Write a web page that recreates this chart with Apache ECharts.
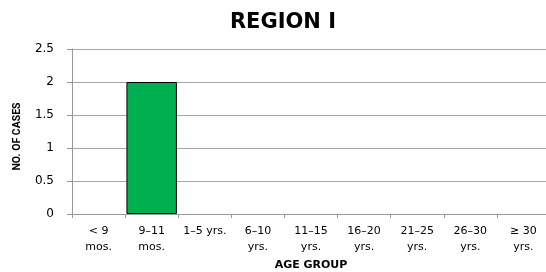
<!DOCTYPE html>
<html>
<head>
<meta charset="utf-8">
<script src="https://cdn.jsdelivr.net/npm/echarts@6/dist/echarts.min.js"></script>
<style>
  html, body { margin: 0; padding: 0; background: #fff; }
  #chart { width: 546px; height: 272px; }
</style>
</head>
<body>
<div id="chart"></div>
<script>
const categories = ["< 9\nmos.", "9–11\nmos.", "1–5 yrs.", "6–10\nyrs.", "11–15\nyrs.", "16–20\nyrs.", "21–25\nyrs.", "26–30\nyrs.", "≥ 30\nyrs."];
const cases = [0, 2, 0, 0, 0, 0, 0, 0, 0];
const yTicks = [0, 0.5, 1, 1.5, 2, 2.5];

const chart = echarts.init(document.getElementById("chart"));

// zero bars get no outline, so the baseline stays grey
const barData = cases.map((value) => ({
  value,
  itemStyle: { borderWidth: value > 0 ? 1 : 0 },
}));

chart.setOption({
  backgroundColor: "#fff",
  animation: false,
  title: {
    text: "REGION I",
    left: 278,
    top: 7,
    textAlign: "center",
    textStyle: {
      fontFamily: "DejaVu Sans",
      fontWeight: "bold",
      fontSize: 21,
      color: "#000",
    },
  },
  grid: {
    left: 72,
    right: -4,
    top: 49,
    bottom: 58,
    outerBoundsMode: "none",
    containLabel: false,
  },
  xAxis: {
    type: "category",
    data: categories,
    name: "AGE GROUP",
    nameLocation: "middle",
    nameGap: 46,
    nameTextStyle: {
      fontFamily: "DejaVu Sans",
      fontWeight: "bold",
      fontSize: 11,
      color: "#000",
    },
    axisLine: { lineStyle: { color: "#999" } },
    axisTick: { show: true, length: 4, lineStyle: { color: "#999" } },
    axisLabel: {
      interval: 0,
      fontFamily: "DejaVu Sans",
      fontSize: 11,
      color: "#000",
      lineHeight: 16,
      margin: 9,
    },
  },
  yAxis: {
    type: "value",
    min: yTicks[0],
    max: yTicks[yTicks.length - 1],
    interval: 0.5,
    name: "NO. OF CASES",
    nameLocation: "middle",
    nameGap: 49,
    nameTextStyle: {
      fontFamily: "Roboto",
      fontWeight: "bold",
      fontSize: 10.5,
      color: "#000",
      padding: [0, 10, 0, 0],
    },
    axisLine: { show: true, lineStyle: { color: "#999" } },
    axisTick: { show: true, length: 5, lineStyle: { color: "#999" } },
    splitLine: { lineStyle: { color: "#a6a6a6" } },
    axisLabel: {
      fontFamily: "DejaVu Sans",
      fontSize: 12,
      color: "#000",
      margin: 18,
    },
  },
  series: [{
    type: "bar",
    data: barData,
    barCategoryGap: "5%",
    itemStyle: {
      color: "#00b050",
      borderColor: "#000",
    },
  }],
});
</script>
</body>
</html>
